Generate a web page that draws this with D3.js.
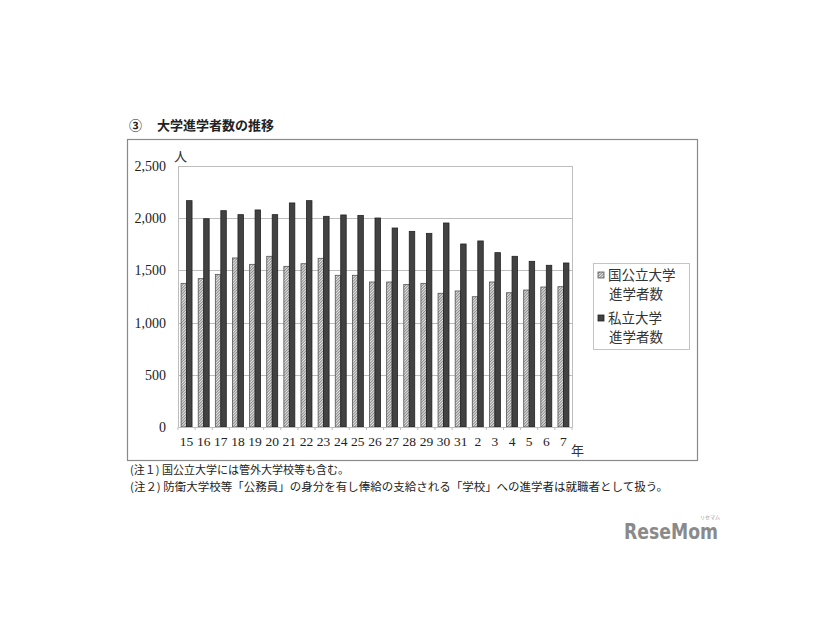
<!DOCTYPE html>
<html><head><meta charset="utf-8">
<script src="https://cdn.jsdelivr.net/npm/d3@7"></script>
<style>body{margin:0;background:#fff}svg{display:block}</style>
</head><body>
<script>
const years = ["15","16","17","18","19","20","21","22","23","24","25","26","27","28","29","30","31","2","3","4","5","6","7"];
const publicUniv = [1376,1421,1462,1619,1558,1635,1539,1564,1616,1453,1453,1389,1389,1365,1376,1281,1303,1248,1389,1286,1312,1341,1344];
const privateUniv = [2168,1995,2072,2034,2079,2034,2146,2168,2018,2031,2027,2002,1906,1874,1855,1954,1753,1782,1670,1635,1587,1549,1571];
const yTicks = [0,500,1000,1500,2000,2500];
const seriesNames = [["国公立大学","進学者数"],["私立大学","進学者数"]];
const notes = ["(注１) 国公立大学には管外大学校等も含む。","(注２) 防衛大学校等「公務員」の身分を有し俸給の支給される「学校」への進学者は就職者として扱う。"];

const W=826,H=620;
const serif = "'Liberation Serif','DejaVu Serif','Noto Sans CJK JP',serif";
const jp = "'Noto Sans CJK JP',sans-serif";
const svg = d3.select("body").append("svg").attr("width",W).attr("height",H);
const defs = svg.append("defs");
const pat = defs.append("pattern").attr("id","hatch").attr("patternUnits","userSpaceOnUse")
  .attr("width",2).attr("height",2).attr("patternTransform","rotate(45)");
pat.append("rect").attr("width",2).attr("height",2).attr("fill","#e6e6e6");
pat.append("rect").attr("width",1).attr("height",2).attr("fill","#8a8a8a");

// title
svg.append("text").attr("x",129).attr("y",130).attr("font-family",jp).attr("font-size",13).attr("font-weight","bold").attr("fill","#222").text("③");
svg.append("text").attr("x",157).attr("y",130).attr("font-family",jp).attr("font-size",13).attr("font-weight","bold").attr("fill","#222").text("大学進学者数の推移");

// outer box
svg.append("rect").attr("x",127.5).attr("y",139.5).attr("width",570).attr("height",321).attr("fill","none").attr("stroke","#8a8a8a").attr("stroke-width",1.2);

const x = d3.scaleBand().domain(years).range([178,572]).paddingInner(0.36).paddingOuter(0.18);
const y = d3.scaleLinear().domain([0,2500]).range([427,166]);

const g = svg.append("g");
// grid
g.selectAll("line.grid").data(yTicks.filter(d=>d>0)).join("line")
  .attr("x1",178).attr("x2",572).attr("y1",d=>Math.round(y(d))+0.5).attr("y2",d=>Math.round(y(d))+0.5)
  .attr("stroke","#bdbdbd").attr("stroke-width",1);
// plot border right & left
g.append("line").attr("x1",572.5).attr("x2",572.5).attr("y1",y(2500)).attr("y2",y(0)).attr("stroke","#bdbdbd");
g.append("line").attr("x1",178.5).attr("x2",178.5).attr("y1",y(2500)).attr("y2",y(0)).attr("stroke","#bdbdbd");

// y axis labels
const yAxis = d3.axisLeft(y).tickValues(yTicks).tickSize(0).tickPadding(10).tickFormat(d3.format(","));
const ya = svg.append("g").attr("transform","translate(176,0)").call(yAxis);
ya.select(".domain").remove();
ya.selectAll("text").attr("font-family",serif).attr("font-size",14).attr("fill","#222");

const bw = x.bandwidth()/2;
g.selectAll("rect.pub").data(years).join("rect")
  .attr("x",(d)=>x(d)).attr("y",(d,i)=>y(publicUniv[i])).attr("width",bw).attr("height",(d,i)=>y(0)-y(publicUniv[i]))
  .attr("fill","url(#hatch)").attr("stroke","#555").attr("stroke-width",0.8);
g.selectAll("rect.priv").data(years).join("rect")
  .attr("x",(d)=>x(d)+bw).attr("y",(d,i)=>y(privateUniv[i])).attr("width",bw).attr("height",(d,i)=>y(0)-y(privateUniv[i]))
  .attr("fill","#424242").attr("stroke","#222").attr("stroke-width",0.8);

// x axis
const xAxis = d3.axisBottom(x).tickSize(0).tickPadding(9);
const xa = svg.append("g").attr("transform","translate(0,427)").call(xAxis);
xa.select(".domain").attr("stroke","#bdbdbd");
xa.selectAll("text").attr("font-family",serif).attr("font-size",13.5).attr("fill","#222");
// small ticks between categories
const step = x.step();
const bounds = d3.range(years.length+1).map(i=>178+i*(394/years.length));
xa.selectAll("line.sep").data(bounds).join("line").attr("x1",d=>d).attr("x2",d=>d).attr("y1",0).attr("y2",3).attr("stroke","#bdbdbd");

// units
svg.append("text").attr("x",174).attr("y",161).attr("font-family",jp).attr("font-size",13).attr("fill","#333").text("人");
svg.append("text").attr("x",571).attr("y",455).attr("font-family",jp).attr("font-size",13).attr("fill","#333").text("年");

// legend
svg.append("rect").attr("x",593.5).attr("y",263.5).attr("width",96).attr("height",86).attr("fill","#fff").attr("stroke","#c4c4c4");
const ly=[[275,294],[318,337]];
seriesNames.forEach((nm,i)=>{
  svg.append("rect").attr("x",598).attr("y",ly[i][0]-3).attr("width",6).attr("height",6)
    .attr("fill",i===0?"url(#hatch)":"#424242").attr("stroke",i===0?"#555":"#222").attr("stroke-width",0.8);
  svg.append("text").attr("x",608).attr("y",ly[i][0]+5).attr("font-family",jp).attr("font-size",13.5).attr("fill","#333").text(nm[0]);
  svg.append("text").attr("x",609).attr("y",ly[i][1]+5).attr("font-family",jp).attr("font-size",13.5).attr("fill","#333").text(nm[1]);
});

// notes
svg.append("text").attr("x",130).attr("y",474).attr("font-family",jp).attr("font-size",11).attr("fill","#222").text(notes[0]);
svg.append("text").attr("x",130).attr("y",491).attr("font-family",jp).attr("font-size",11).attr("fill","#222")
  .attr("textLength",538).attr("lengthAdjust","spacingAndGlyphs").text(notes[1]);

// watermark
svg.append("text").attr("x",624).attr("y",539).attr("font-family","'DejaVu Sans',sans-serif").attr("font-weight","bold").attr("font-size",22).attr("fill","#8a8a8a")
  .attr("textLength",94).attr("lengthAdjust","spacingAndGlyphs").text("ReseMom");
svg.append("text").attr("x",700).attr("y",519).attr("font-family",jp).attr("font-size",5).attr("fill","#999").text("リセマム");
</script>
</body></html>
